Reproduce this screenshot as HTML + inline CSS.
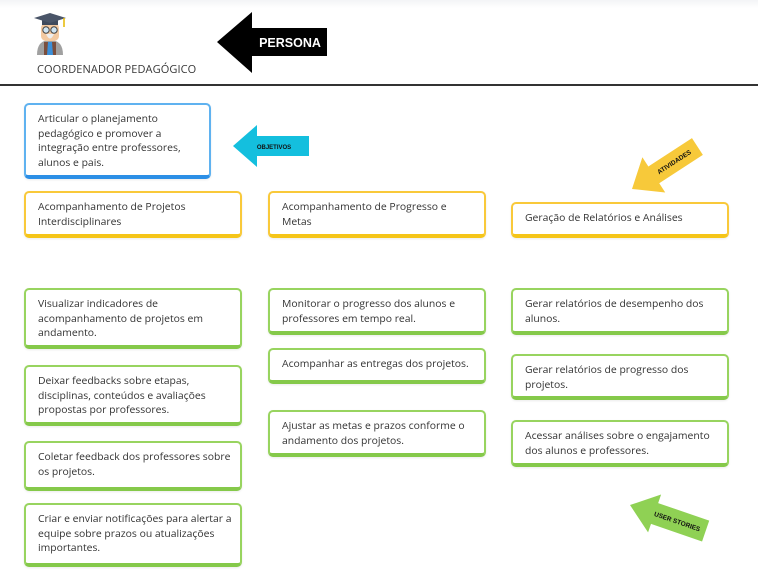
<!DOCTYPE html>
<html><head><meta charset="utf-8"><style>
body{margin:0;width:758px;height:586px;background:#fff;position:relative;overflow:hidden;font-family:"Open Sans","Liberation Sans",sans-serif;}
.b{position:absolute;box-sizing:border-box;border:2px solid;border-bottom-width:4px;border-radius:5px;padding:7px 6px 7px 12px;font-size:10.4px;line-height:14.6px;color:#333;background:#fff;box-shadow:0 1px 2px rgba(0,0,0,.08)}
.y{border-color:#f9c93a;border-bottom-color:#f5c518}
.g{border-color:#98d45f;border-bottom-color:#85c94a}
.bl{border-color:#5fb2f0;border-bottom-color:#2c8fe6}
svg{position:absolute;left:0;top:0}
</style></head><body>
<div style="position:absolute;left:0;top:0;width:758px;height:8px;background:linear-gradient(#f3f4f6,#fff)"></div>
<div style="position:absolute;left:0;top:84px;width:758px;height:2px;background:#333"></div>
<div style="position:absolute;left:37px;top:62px;font-size:11px;color:#333;letter-spacing:0.1px">COORDENADOR PEDAGÓGICO</div>
<svg width="758" height="586">
<g>
<path d="M37 55 Q37 40 50 40 Q63 40 63 55 Z" fill="#a0a0a0"/>
<path d="M44 55 L44 42 L56 42 L56 55 Z" fill="#7b4e3c"/>
<path d="M48 42 L52 42 L53 55 L47 55 Z" fill="#3b8fd8"/>
<rect x="41" y="23" width="18" height="18" rx="5" fill="#f3c9a0"/>
<path d="M46 34 Q50 43 54 34 Z" fill="#eee"/>
<circle cx="46" cy="30" r="3.2" fill="#cfe5f3" stroke="#444" stroke-width="1"/>
<circle cx="54" cy="30" r="3.2" fill="#cfe5f3" stroke="#444" stroke-width="1"/>
<rect x="42" y="19" width="16" height="6" fill="#3f4a5c"/>
<polygon points="50,13 66,18 50,23 34,18" fill="#4a5568"/>
<line x1="64" y1="18" x2="64" y2="27" stroke="#e6b800" stroke-width="1.5"/>
</g>
<polygon points="217,42 252,12 252,28 327,28 327,56 252,56 252,73" fill="#000"/>
<text x="290" y="47" font-size="12.5" font-weight="bold" fill="#fff" text-anchor="middle" font-family="Liberation Sans,sans-serif">PERSONA</text>
<polygon points="233,146 257,125 257,136 309,136 309,156 257,156 257,167" fill="#14bfde"/>
<text x="274" y="149" font-size="6" font-weight="bold" fill="#111" text-anchor="middle" font-family="Liberation Sans,sans-serif">OBJETIVOS</text>
<g transform="translate(632,189) rotate(-33)">
<polygon points="0,0 26,-21 26,-10 78,-10 78,10 26,10 26,21" fill="#f7c93a"/>
<text x="50" y="2.5" font-size="6.5" font-weight="bold" fill="#111" text-anchor="middle" font-family="Liberation Sans,sans-serif">ATIVIDADES</text>
</g>
<g transform="translate(630,505) rotate(19)">
<polygon points="0,0 26,-20 26,-11 80,-11 80,11 26,11 26,20" fill="#8fd154"/>
<text x="50" y="2.5" font-size="6.5" font-weight="bold" fill="#111" text-anchor="middle" font-family="Liberation Sans,sans-serif">USER STORIES</text>
</g>
</svg>

<div class="b bl" style="left:24px;top:103px;width:187px;height:76px">Articular o planejamento pedagógico e promover a integração entre professores, alunos e pais.</div>

<div class="b y" style="left:24px;top:191px;width:218px;height:47px">Acompanhamento de Projetos Interdisciplinares</div>
<div class="b y" style="left:268px;top:191px;width:218px;height:47px">Acompanhamento de Progresso e Metas</div>
<div class="b y" style="left:511px;top:202px;width:218px;height:36px">Geração de Relatórios e Análises</div>

<div class="b g" style="left:24px;top:288px;width:218px;height:61px">Visualizar indicadores de acompanhamento de projetos em andamento.</div>
<div class="b g" style="left:24px;top:365px;width:218px;height:61px">Deixar feedbacks sobre etapas, disciplinas, conteúdos e avaliações propostas por professores.</div>
<div class="b g" style="left:24px;top:441px;width:218px;height:50px">Coletar feedback dos professores sobre os projetos.</div>
<div class="b g" style="left:24px;top:503px;width:218px;height:64px">Criar e enviar notificações para alertar a equipe sobre prazos ou atualizações importantes.</div>

<div class="b g" style="left:268px;top:288px;width:218px;height:47px">Monitorar o progresso dos alunos e professores em tempo real.</div>
<div class="b g" style="left:268px;top:348px;width:218px;height:36px">Acompanhar as entregas dos projetos.</div>
<div class="b g" style="left:268px;top:410px;width:218px;height:47px">Ajustar as metas e prazos conforme o andamento dos projetos.</div>

<div class="b g" style="left:511px;top:288px;width:218px;height:47px">Gerar relatórios de desempenho dos alunos.</div>
<div class="b g" style="left:511px;top:354px;width:218px;height:46px">Gerar relatórios de progresso dos projetos.</div>
<div class="b g" style="left:511px;top:420px;width:218px;height:47px">Acessar análises sobre o engajamento dos alunos e professores.</div>
</body></html>
